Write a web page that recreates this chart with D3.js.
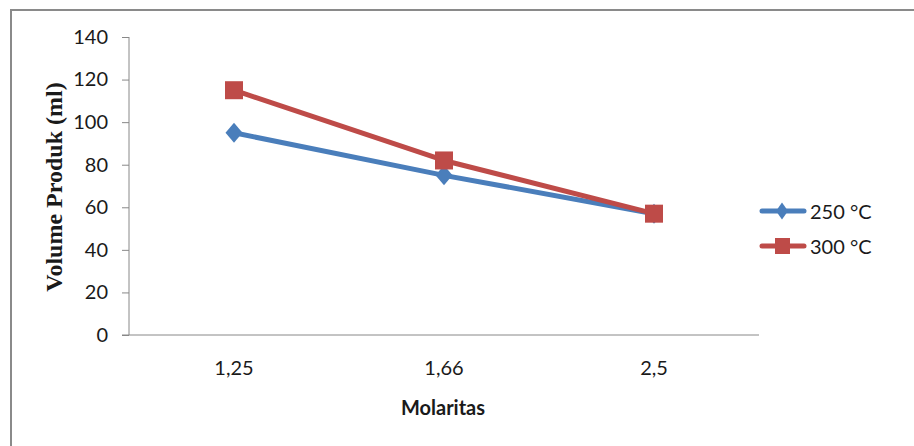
<!DOCTYPE html>
<html><head><meta charset="utf-8">
<script src="https://cdn.jsdelivr.net/npm/d3@7"></script>
<style>body{margin:0;background:#fff;} svg{display:block;}</style>
</head><body>
<svg id="c" width="914" height="446"></svg>
<script>
const categories = ["1,25", "1,66", "2,5"];
const seriesNames = ["250 °C", "300 °C"];
const values250 = [95, 75, 57];
const values300 = [115, 82, 57];
const yTicks = [0, 20, 40, 60, 80, 100, 120, 140];
const yTitle = "Volume Produk (ml)";
const xTitle = "Molaritas";

(function () {
const colors = ["#4a7ebb", "#be4b48"];
const series = [values250, values300];

const svg = d3.select("#c");
svg.append("rect").attr("width", 914).attr("height", 446).attr("fill", "#fff");
// outer border (top and left visible)
svg.append("path").attr("d", "M11,446 L11,10 L914,10").attr("fill", "none")
  .attr("stroke", "#8a8a8a").attr("stroke-width", 2);

const pLeft = 129, pRight = 759, pTop = 37, pBottom = 335;
const x = d3.scaleBand().domain(categories).range([pLeft, pRight]);
const y = d3.scaleLinear().domain([0, 140]).range([pBottom, pTop]);

const font = "Lato, 'Open Sans', sans-serif";
const txt = "#1a1a1a";

// y axis
const ya = svg.append("g").attr("transform", `translate(${pLeft},0)`)
  .call(d3.axisLeft(y).tickValues(yTicks).tickSize(7).tickPadding(14));
ya.select(".domain").attr("stroke", "#888").attr("d", `M0,${pTop}V${pBottom}`);
ya.selectAll(".tick line").attr("stroke", "#888");
ya.selectAll("text").attr("font-family", font).attr("font-size", 20).attr("fill", txt);

// x axis
const xa = svg.append("g").attr("transform", `translate(0,${pBottom})`)
  .call(d3.axisBottom(x).tickSize(0));
xa.select(".domain").attr("stroke", "#888").attr("d", `M${pLeft - 7},0H${pRight}`);
xa.selectAll("text").attr("font-family", font).attr("font-size", 20).attr("fill", txt)
  .attr("y", 33).attr("dy", "0.35em");

// titles
svg.append("text").attr("transform", `translate(54,187) rotate(-90)`)
  .attr("text-anchor", "middle").attr("dominant-baseline", "central")
  .attr("font-family", "'Liberation Serif', 'Times New Roman', serif")
  .attr("font-weight", "bold").attr("font-size", 24).attr("fill", txt).text(yTitle);
svg.append("text").attr("x", 443).attr("y", 407).attr("text-anchor", "middle")
  .attr("dominant-baseline", "central")
  .attr("font-family", font).attr("font-weight", "bold").attr("font-size", 20)
  .attr("fill", txt).text(xTitle);

const cx = c => x(c) + x.bandwidth() / 2;
const line = d3.line().x((d, i) => cx(categories[i])).y(d => y(d));

function marker(g, kind, px, py, color) {
  if (kind === 0) {
    const w = 8.5, h = 10;
    g.append("path").attr("d", `M${px},${py - h}L${px + w},${py}L${px},${py + h}L${px - w},${py}Z`).attr("fill", color);
  } else {
    const s = 9;
    g.append("rect").attr("x", px - s).attr("y", py - s).attr("width", 2 * s).attr("height", 2 * s).attr("fill", color);
  }
}

series.forEach((vals, k) => {
  const g = svg.append("g");
  g.append("path").datum(vals).attr("d", line).attr("fill", "none")
    .attr("stroke", colors[k]).attr("stroke-width", 5).attr("stroke-linejoin", "round");
  vals.forEach((v, i) => marker(g, k, cx(categories[i]), y(v), colors[k]));
});

// legend
const legY = [211, 246];
seriesNames.forEach((name, k) => {
  const g = svg.append("g");
  g.append("line").attr("x1", 762).attr("x2", 804).attr("y1", legY[k]).attr("y2", legY[k])
    .attr("stroke", colors[k]).attr("stroke-width", 5).attr("stroke-linecap", "round");
  if (k === 0) {
    g.append("path").attr("d", `M782,${legY[k] - 8.5}L788,${legY[k]}L782,${legY[k] + 8.5}L776,${legY[k]}Z`).attr("fill", colors[k]);
  } else {
    g.append("rect").attr("x", 775).attr("y", legY[k] - 8).attr("width", 15).attr("height", 16).attr("fill", colors[k]);
  }
  g.append("text").attr("x", 810).attr("y", legY[k]).attr("dominant-baseline", "central")
    .attr("font-family", font).attr("font-size", 20).attr("fill", txt).text(name);
});
})();
</script>
</body></html>
